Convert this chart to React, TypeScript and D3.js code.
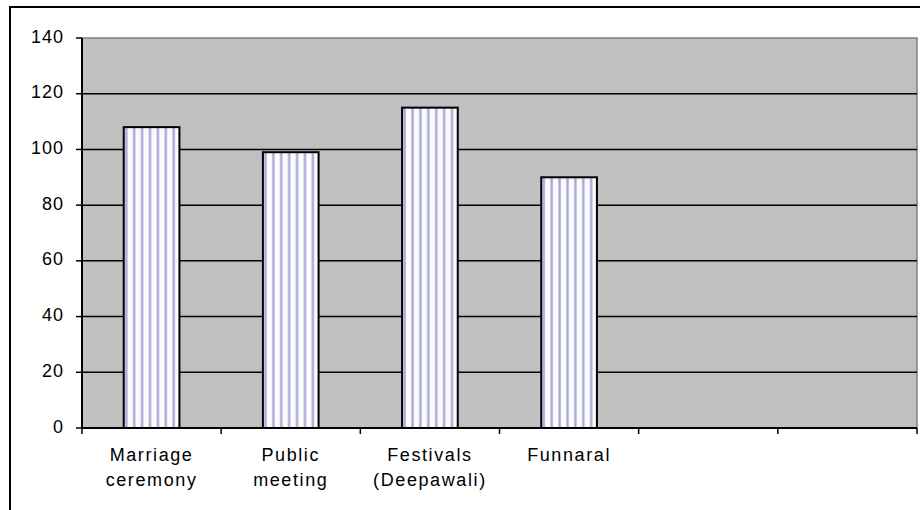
import React from "react";
import * as d3 from "d3";

// values
const categories: string[][] = [
  ["Marriage", "ceremony"],
  ["Public", "meeting"],
  ["Festivals", "(Deepawali)"],
  ["Funnaral"],
  [""],
  [""],
];
const values: number[] = [108, 99, 115, 90];
const yTicks: number[] = [0, 20, 40, 60, 80, 100, 120, 140];

const W = 920;
const H = 510;
const plot = { left: 82, top: 38, right: 917, bottom: 428 };
const font = "'Liberation Sans', Arial, sans-serif";

const App: React.FC = () => {
  const x = d3
    .scaleBand<number>()
    .domain(d3.range(categories.length))
    .range([plot.left, plot.right]);
  const y = d3.scaleLinear().domain([0, 140]).range([plot.bottom, plot.top]);
  const barW = x.bandwidth() * 0.4;

  return (
    <svg
      width={W}
      height={H}
      style={{ position: "absolute", left: 0, top: 0, background: "#fff" }}
    >
      <defs>
        {values.map((v, i) => {
          const bx = x(i)! + (x.bandwidth() - barW) / 2;
          return (
            <pattern
              key={i}
              id={`stripes${i}`}
              patternUnits="userSpaceOnUse"
              x={bx + 1}
              y={0}
              width={7.9}
              height={10}
            >
              <rect width={7.9} height={10} fill="#fafaff" />
              <rect x={0} width={3} height={10} fill="#cfcfee" />
              <rect x={0.8} width={1.6} height={10} fill="#a6a6d6" />
            </pattern>
          );
        })}
      </defs>

      {/* outer frame */}
      <rect x={10} y={7} width={940} height={540} fill="none" stroke="#000" strokeWidth={2} />

      {/* plot area */}
      <rect
        x={plot.left}
        y={plot.top}
        width={plot.right - plot.left}
        height={plot.bottom - plot.top}
        fill="#c0c0c0"
        stroke="#808080"
        strokeWidth={1.5}
      />

      {/* gridlines */}
      {yTicks.slice(1, -1).map((t) => (
        <line
          key={t}
          x1={plot.left}
          x2={plot.right}
          y1={y(t)}
          y2={y(t)}
          stroke="#000"
          strokeWidth={1.5}
        />
      ))}

      {/* bars */}
      {values.map((v, i) => {
        const bx = x(i)! + (x.bandwidth() - barW) / 2;
        return (
          <rect
            key={i}
            x={bx}
            y={y(v)}
            width={barW}
            height={y(0) - y(v)}
            fill={`url(#stripes${i})`}
            stroke="#000"
            strokeWidth={2}
          />
        );
      })}

      {/* y axis */}
      <line x1={plot.left} x2={plot.left} y1={plot.top} y2={plot.bottom} stroke="#000" strokeWidth={2} />
      {yTicks.map((t) => (
        <g key={t}>
          <line x1={plot.left - 6} x2={plot.left} y1={y(t)} y2={y(t)} stroke="#000" strokeWidth={1.5} />
          <text
            x={64}
            y={y(t) + 4.5}
            textAnchor="end"
            fontFamily={font}
            fontSize={18}
            letterSpacing={1}
            fill="#000"
          >
            {t}
          </text>
        </g>
      ))}

      {/* x axis */}
      <line x1={plot.left} x2={plot.right} y1={plot.bottom} y2={plot.bottom} stroke="#000" strokeWidth={2} />
      {d3.range(categories.length + 1).map((i) => {
        const tx = plot.left + i * x.step();
        return (
          <line key={i} x1={tx} x2={tx} y1={plot.bottom} y2={plot.bottom + 6} stroke="#000" strokeWidth={1.5} />
        );
      })}
      {categories.map((lines, i) => (
        <text
          key={i}
          x={x(i)! + x.bandwidth() / 2}
          y={461}
          textAnchor="middle"
          fontFamily={font}
          fontSize={18}
          letterSpacing={1.6}
          fill="#000"
        >
          {lines.map((l, j) => (
            <tspan key={j} x={x(i)! + x.bandwidth() / 2} dy={j === 0 ? 0 : 25}>
              {l}
            </tspan>
          ))}
        </text>
      ))}
    </svg>
  );
};

export default App;
